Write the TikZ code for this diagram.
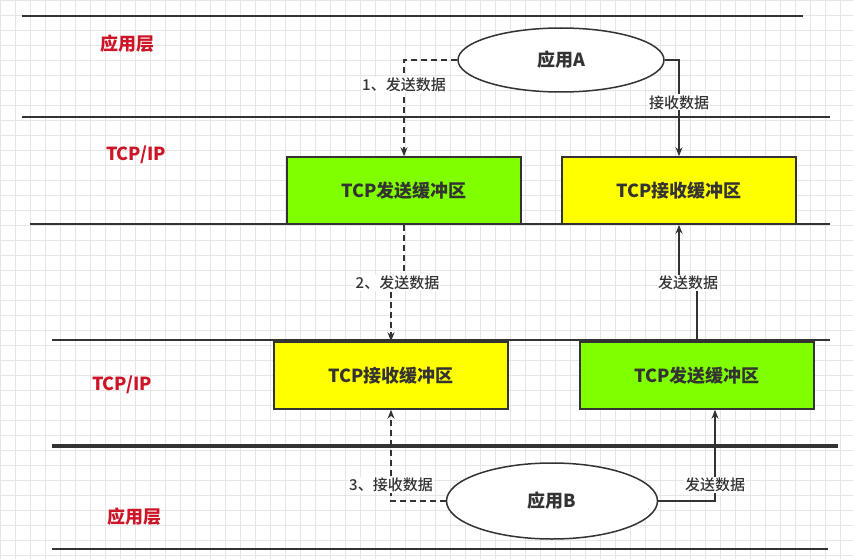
\documentclass[tikz,border=0pt]{standalone}
\usepackage{fontspec}
\setmainfont{Noto Sans CJK SC}
\newfontfamily\medfont{Noto Sans CJK SC Medium}
\usepackage{xcolor}
\definecolor{layerRed}   {HTML}{CC1628}
\definecolor{sendGreen}  {HTML}{80FF00}
\definecolor{recvYellow} {HTML}{FFFF00}
\definecolor{inkGray}    {HTML}{333333}
\definecolor{gridGray}   {HTML}{E6E6E6}
\usetikzlibrary{arrows.meta, positioning, calc, shapes.geometric}
\tikzset{
    buffer/.style={draw=inkGray, line width=1.5pt, rectangle,
                   minimum width=234pt, minimum height=67pt, inner sep=0pt,
                   font=\fontsize{18}{20}\selectfont\bfseries, text=inkGray},
    sendbuf/.style={buffer, fill=sendGreen},
    recvbuf/.style={buffer, fill=recvYellow},
    app/.style={ellipse, draw=inkGray, line width=1.5pt, fill=white,
                inner sep=0pt, font=\fontsize{18}{20}\selectfont\bfseries,
                text=inkGray},
    layer/.style={font=\fontsize{18}{20}\selectfont\bfseries, text=layerRed},
    divider/.style={draw=inkGray, line width=2.2pt},
    flow/.style={->, >={Stealth[length=9pt,width=7pt]}, draw=inkGray,
                 line width=1.2pt},
    dflow/.style={flow, dash pattern=on 6pt off 4pt},
    flowlabel/.style={fill=white, inner sep=1pt, text=inkGray,
                      font=\fontsize{15}{17}\selectfont\medfont},
}
\begin{document}
\begin{tikzpicture}[x=1pt, y=-1pt]
\useasboundingbox (0,0) rectangle (853,559);
\draw[gridGray, step=15pt] (0,0) grid (853,559);

% --- layer dividers ---
\draw[divider] (22,16) -- (803,16);
\draw[divider] (22,117) -- (830,117);
\draw[divider] (30,224) -- (830,224);
\draw[divider] (52,340) -- (830,340);
\draw[divider, line width=3.5pt] (52,446) -- (838,446);
\draw[divider] (52,549) -- (828,549);

% --- layer names ---
\node[layer] (top-app) at (127,44) {应用层};
\node[layer] (top-tcp) at (136,155) {TCP/IP};
\node[layer] (bot-tcp) at (122,385) {TCP/IP};
\node[layer] (bot-app) at (134,517) {应用层};

% --- host A ---
\node[app, minimum width=206pt, minimum height=64pt] (appA) at (561,60) {应用A};
\node[sendbuf] (a-send) at (404,190.5) {TCP发送缓冲区};
\node[recvbuf] (a-recv) at (679,190.5) {TCP接收缓冲区};

% --- host B ---
\node[recvbuf] (b-recv) at (391,375.5) {TCP接收缓冲区};
\node[sendbuf] (b-send) at (697,375.5) {TCP发送缓冲区};
\node[app, minimum width=211pt, minimum height=76pt] (appB) at (552,501) {应用B};

% --- data flow ---
\draw[dflow] (appA.west) -| (a-send.north)
    node[flowlabel, pos=0.63] (l-1) {1、发送数据};
\draw[flow] (appA.east) -| (a-recv.north)
    node[flowlabel, pos=0.72] (l-a) {接收数据};
\draw[dflow] (a-send.south) |- ($(a-send.south)!0.5!(b-recv.north)$)
    -| (b-recv.north);
\node[flowlabel] (l-2) at ($(a-send.south)!0.5!(b-recv.north)$) {2、发送数据};
\draw[flow] (b-send.north) |- ($(b-send.north)!0.5!(a-recv.south)$)
    -| (a-recv.south);
\node[flowlabel] (l-b) at ($(b-send.north)!0.5!(a-recv.south)$) {发送数据};
\draw[dflow] (appB.west) -| (b-recv.south)
    node[flowlabel, pos=0.59] (l-3) {3、接收数据};
\draw[flow] (appB.east) -| ([xshift=18pt]b-send.south)
    node[flowlabel, pos=0.59] (l-c) {发送数据};
\end{tikzpicture}
\end{document}
